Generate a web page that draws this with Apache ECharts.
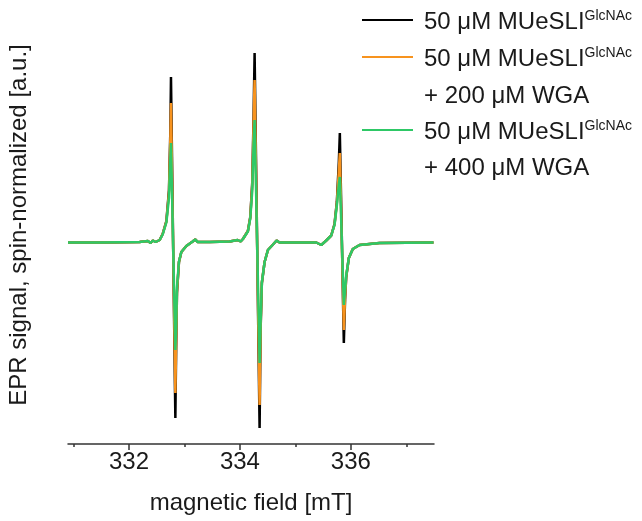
<!DOCTYPE html>
<html>
<head>
<meta charset="utf-8">
<script src="https://cdn.jsdelivr.net/npm/echarts@6/dist/echarts.min.js"></script>
<style>
  html, body { margin: 0; padding: 0; background: #fff; }
  #chart { width: 642px; height: 521px; }
</style>
</head>
<body>
<div id="chart"></div>
<script>
// Magnetic field positions (mT), shared by all three spectra
const field = [
  330.90, 331.47, 332.19, 332.34, 332.39, 332.43, 332.48, 332.553, 332.607, 332.674,
  332.721, 332.746, 332.757, 332.836, 332.850, 332.865, 332.901, 332.944, 333.034, 333.148,
  333.193, 333.238, 333.454, 333.814, 333.959, 334.013, 334.054, 334.144, 334.187, 334.223,
  334.247, 334.265, 334.355, 334.373, 334.396, 334.445, 334.505, 334.589, 334.661, 334.715,
  334.895, 335.377, 335.467, 335.557, 335.647, 335.706, 335.748, 335.784, 335.802, 335.874,
  335.896, 335.917, 335.964, 336.036, 336.157, 336.517, 337.49
];

// EPR signal, spin-normalized (a.u.)
const signalFree = [
  0, 0, 0.5, 1.5, -0.5, 2, 0.5, 2.5, 8.5, 21.5,
  52.5, 112.5, 165.5, -175.5, -107.5, -50.5, -19.5, -9.5, -3.5, 1,
  3, 0.5, 0.5, 1, 2.5, 1, 3.5, 11.5, 25.5, 60.5,
  127.5, 189.5, -185.5, -87.5, -40.5, -19.5, -7.5, -2.5, 2, 0,
  0, 0, -2.5, 2, 7, 18.5, 40.5, 80.5, 109.5, -100.5,
  -57.5, -34.5, -15.5, -6.5, -2.5, -0.5, 0
];
const signalWGA200 = [
  0, 0, 0.5, 1.5, -0.5, 2, 0.5, 2.5, 8.5, 21,
  50, 105, 139.5, -150.5, -100, -49, -19.5, -9.5, -3.5, 1,
  3, 0.5, 0.5, 1, 2.5, 1, 3.5, 11.5, 25, 58,
  120, 162.5, -162.5, -85, -40, -19.5, -7.5, -2.5, 2, 0,
  0, 0, -2.5, 2, 7, 18, 39, 72, 89.5, -87.5,
  -55, -34, -15.5, -6.5, -2.5, -0.5, 0
];
const signalWGA400 = [
  0, 0, 0.5, 1.5, -0.5, 2, 0.5, 2.5, 8, 20,
  45, 85, 99.5, -107.5, -85, -45, -19, -9.5, -3.5, 1,
  3, 0.5, 0.5, 1, 2.5, 1, 3.5, 11, 24, 52,
  100, 122.5, -120.5, -80, -40, -19.5, -7.5, -2.5, 2, 0,
  0, 0, -2.5, 2, 7, 17.5, 37, 58, 65.5, -62.5,
  -48, -33, -15.5, -6.5, -2.5, -0.5, 0
];

const majorTicks = [332, 334, 336];
const minorTicks = [331, 333, 335, 337];

const seriesNames = [
  '50 μM MUeSLI GlcNAc',
  '50 μM MUeSLI GlcNAc + 200 μM WGA',
  '50 μM MUeSLI GlcNAc + 400 μM WGA'
];
const colors = ['#000000', '#f7931e', '#2ec866'];

function pairs(ys) {
  return field.map(function (x, i) { return [x, ys[i]]; });
}

const FONT = '"Liberation Sans", Arial, sans-serif';
const chart = echarts.init(document.getElementById('chart'), null, { renderer: 'canvas' });

const textStyleRich = {
  fontFamily: FONT,
  fontSize: 24,
  fill: '#1a1a1a',
  rich: {
    sup: { fontFamily: FONT, fontSize: 14, verticalAlign: 'top', padding: [0, 0, 12, 0] }
  }
};

// legend drawn with graphic elements
const legendX1 = 362, legendX2 = 413, textX = 424;
const rowY = [20, 57, 94, 130, 166];
function legendLine(y, color) {
  return { type: 'line', shape: { x1: legendX1, y1: y, x2: legendX2, y2: y },
           style: { stroke: color, lineWidth: 2 }, silent: true };
}
function legendText(y, text) {
  return { type: 'text', x: textX, y: y + 2,
           style: Object.assign({ text: text, verticalAlign: 'middle', align: 'left' }, textStyleRich),
           silent: true };
}

chart.setOption({
  animation: false,
  backgroundColor: '#ffffff',
  grid: { left: 68, right: 208, top: 6, bottom: 77, containLabel: false, outerBoundsMode: 'none' },
  xAxis: [
    {
      type: 'value', min: 330.9, max: 337.5, position: 'bottom',
      name: 'magnetic field [mT]', nameLocation: 'middle', nameGap: 47,
      nameTextStyle: { fontFamily: FONT, fontSize: 24, color: '#1a1a1a' },
      axisLine: { show: true, onZero: false, lineStyle: { color: '#333', width: 1.5 } },
      axisTick: { show: true, inside: false, length: 6, customValues: majorTicks,
                  lineStyle: { color: '#333', width: 1.5 } },
      axisLabel: { show: true, customValues: majorTicks, margin: 6,
                   fontFamily: FONT, fontSize: 24, color: '#1a1a1a' },
      splitLine: { show: false }
    },
    {
      type: 'value', min: 330.9, max: 337.5, position: 'bottom',
      axisLine: { show: false, onZero: false },
      axisTick: { show: true, inside: false, length: 3, customValues: minorTicks,
                  lineStyle: { color: '#333', width: 1.5 } },
      axisLabel: { show: false },
      splitLine: { show: false }
    }
  ],
  yAxis: {
    type: 'value', min: -201.5, max: 236.5,
    name: 'EPR signal, spin-normalized [a.u.]', nameLocation: 'middle', nameGap: 37,
    nameTextStyle: { fontFamily: FONT, fontSize: 24, color: '#1a1a1a' },
    axisLine: { show: false }, axisTick: { show: false },
    axisLabel: { show: false }, splitLine: { show: false }
  },
  series: [signalFree, signalWGA200, signalWGA400].map(function (ys, i) {
    return {
      name: seriesNames[i], type: 'line', xAxisIndex: 0,
      data: pairs(ys), showSymbol: false, smooth: false,
      lineStyle: { color: colors[i], width: 2.5 }, z: 2 + i
    };
  }),
  graphic: [
    legendLine(rowY[0], colors[0]), legendText(rowY[0], '50 μM MUeSLI{sup|GlcNAc}'),
    legendLine(rowY[1], colors[1]), legendText(rowY[1], '50 μM MUeSLI{sup|GlcNAc}'),
    legendText(rowY[2], '+ 200 μM WGA'),
    legendLine(rowY[3], colors[2]), legendText(rowY[3], '50 μM MUeSLI{sup|GlcNAc}'),
    legendText(rowY[4], '+ 400 μM WGA')
  ]
});
</script>
</body>
</html>
